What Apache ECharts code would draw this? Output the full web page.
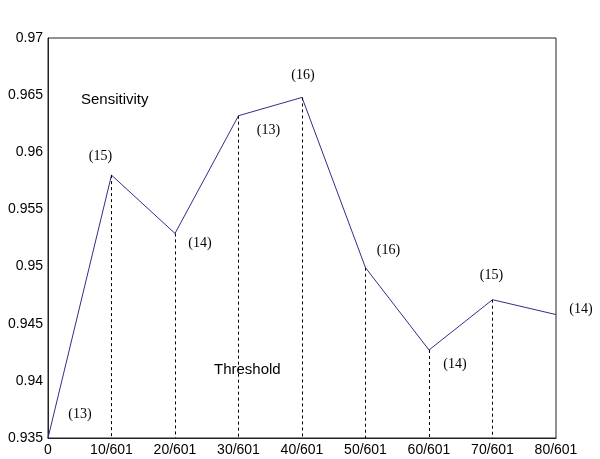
<!DOCTYPE html>
<html>
<head>
<meta charset="utf-8">
<script src="https://cdn.jsdelivr.net/npm/echarts@6/dist/echarts.min.js"></script>
<style>
  html, body { margin: 0; padding: 0; background: #fff; }
  #main { width: 600px; height: 459px; }
</style>
</head>
<body>
<div id="main"></div>
<script>
    // data
    var thresholds = ['0', '10/601', '20/601', '30/601', '40/601', '50/601', '60/601', '70/601', '80/601'];
    var sensitivity = [0.935, 0.958, 0.9529, 0.9632, 0.9648, 0.9499, 0.9427, 0.9471, 0.9458];
    var counts = [13, 15, 14, 13, 16, 16, 14, 15, 14];
    // where each count label sits relative to its point (px)
    var labelOffsets = [[32, -24], [-11, -19], [25, 10], [30, 15], [1, -22], [23, -17], [26, 14], [-1, -24], [25, -5]];

    var myChart = echarts.init(document.getElementById('main'));

    var pointData = sensitivity.map(function (v, i) {
        return {
            value: v,
            label: {
                show: true,
                formatter: '(' + counts[i] + ')',
                position: 'inside',
                offset: labelOffsets[i]
            }
        };
    });

    // dashed drop lines from the inner points to the x axis
    var drops = [];
    for (var i = 1; i < sensitivity.length - 1; i++) {
        drops.push([{ coord: [i, sensitivity[i]] }, { coord: [i, 0.935] }]);
    }

    var option = {
        animation: false,
        backgroundColor: '#fff',
        grid: {
            left: 48, right: 44, top: 38, bottom: 21,
            show: true, borderColor: '#222', borderWidth: 1
        },
        xAxis: {
            type: 'category',
            data: thresholds,
            boundaryGap: false,
            axisLine: { lineStyle: { color: '#222' } },
            axisTick: { show: false },
            axisLabel: { color: '#000', fontFamily: 'Liberation Sans', fontSize: 14, margin: 5 },
            splitLine: { show: false }
        },
        yAxis: {
            type: 'value',
            min: 0.935,
            max: 0.97,
            interval: 0.005,
            axisLine: { show: true, lineStyle: { color: '#222' } },
            axisTick: { show: false },
            axisLabel: {
                color: '#000', fontFamily: 'Liberation Sans', fontSize: 14, margin: 5,
                formatter: function (v) { return String(+v.toFixed(3)); }
            },
            splitLine: { show: false }
        },
        graphic: [
            { type: 'text', left: 81, top: 92, style: { text: 'Sensitivity', fontFamily: 'Liberation Sans', fontSize: 15, fill: '#000' } },
            { type: 'text', left: 214, top: 362, style: { text: 'Threshold', fontFamily: 'Liberation Sans', fontSize: 15, fill: '#000' } }
        ],
        series: [{
            type: 'line',
            data: pointData,
            symbol: 'circle',
            symbolSize: 1,
            itemStyle: { color: 'rgba(0,0,0,0)' },
            lineStyle: { color: '#2e2e8c', width: 1 },
            label: { color: '#000', fontFamily: 'Liberation Serif', fontSize: 14 },
            markLine: {
                silent: true,
                symbol: 'none',
                label: { show: false },
                lineStyle: { color: '#000', type: [3, 3], width: 1 },
                data: drops
            }
        }]
    };
    myChart.setOption(option);
</script>
</body>
</html>
